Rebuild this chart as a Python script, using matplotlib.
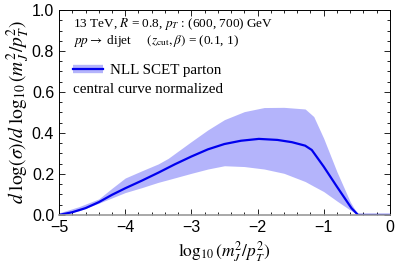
import numpy as np
import matplotlib
matplotlib.use('Agg')
import matplotlib.pyplot as plt
from matplotlib.ticker import MultipleLocator, FuncFormatter, FormatStrFormatter
from matplotlib.lines import Line2D

plt.rcParams['mathtext.fontset'] = 'stix'
plt.rcParams['font.family'] = 'Liberation Serif'

# central curve
x_c = [-5.0, -4.80, -4.60, -4.40, -4.20, -4.00, -3.75, -3.50, -3.25, -3.00,
       -2.75, -2.50, -2.25, -1.98, -1.70, -1.48, -1.28, -1.18, -1.00, -0.80,
       -0.58, -0.48, 0.0]
y_c = [0.0, 0.013, 0.033, 0.062, 0.098, 0.130, 0.167, 0.206, 0.247, 0.285,
       0.320, 0.346, 0.362, 0.371, 0.366, 0.355, 0.338, 0.317, 0.236, 0.138,
       0.033, 0.0, 0.0]

# uncertainty band
x_b = [-5.0, -4.70, -4.40, -4.20, -4.00, -3.75, -3.50, -3.35, -3.00, -2.75,
       -2.50, -2.20, -1.90, -1.60, -1.28, -1.15, -1.00, -0.80, -0.60, -0.48, 0.0]
y_up = [0.010, 0.040, 0.078, 0.130, 0.180, 0.215, 0.249, 0.276, 0.358, 0.415,
        0.465, 0.504, 0.524, 0.525, 0.517, 0.480, 0.374, 0.211, 0.065, 0.0, 0.0]
y_lo = [0.0, 0.020, 0.057, 0.083, 0.109, 0.133, 0.159, 0.172, 0.203, 0.224,
        0.240, 0.236, 0.224, 0.203, 0.163, 0.140, 0.114, 0.068, 0.024, 0.0, 0.0]

band_col = '#b4b4fb'
line_col = '#0000ee'

fig = plt.figure(figsize=(3.99, 2.71), dpi=100)
ax = fig.add_axes([0.148, 0.207, 0.829, 0.756])

ax.fill_between(x_b, y_lo, y_up, color=band_col, lw=0, zorder=1)
ax.plot(x_c, y_c, color=line_col, lw=1.6, zorder=2, solid_joinstyle='round')

ax.set_xlim(-5, 0)
ax.set_ylim(0, 1.0)
ax.xaxis.set_major_locator(MultipleLocator(1))
ax.xaxis.set_minor_locator(MultipleLocator(0.2))
ax.yaxis.set_major_locator(MultipleLocator(0.2))
ax.yaxis.set_minor_locator(MultipleLocator(0.05))
ax.tick_params(which='both', direction='in', top=True, right=True,
               labelsize=11.5, width=0.6)
ax.tick_params(which='major', length=4)
ax.tick_params(which='minor', length=2)
ax.xaxis.set_major_formatter(FuncFormatter(
    lambda v, p: '0' if v == 0 else '\u2212%d' % abs(v)))
ax.yaxis.set_major_formatter(FormatStrFormatter('%.1f'))
for lab in ax.get_xticklabels() + ax.get_yticklabels():
    lab.set_fontfamily('Liberation Sans')
for s in ax.spines.values():
    s.set_linewidth(0.7)
ax.spines['bottom'].set_color('#999999')
ax.spines['bottom'].set_linewidth(1.2)

ax.set_xlabel(r'$\log_{10}(m_J^2/p_T^2)$', fontsize=12.5, labelpad=3)
ax.set_ylabel(r'$d\;\log(\sigma)/d\;\log_{10}(m_J^2/p_T^2)$', fontsize=14,
              labelpad=0)

ax.text(0.042, 0.932, r'13 TeV, $R$ = 0.8, $p_T$ : (600, 700) GeV',
        transform=ax.transAxes, fontsize=9.5, va='center')
ax.text(0.042, 0.849, r'$pp \rightarrow$ dijet     $(z_{\rm cut}, \beta)$ = (0.1, 1)',
        transform=ax.transAxes, fontsize=9.5, va='center')

handle = (Line2D([], [], color=band_col, lw=6, solid_capstyle='butt'),
          Line2D([], [], color=line_col, lw=1.6))
leg = ax.legend([handle], ['NLL SCET parton'], loc='upper left',
                bbox_to_anchor=(0.024, 0.768), frameon=False, fontsize=10.8,
                handlelength=2.0, handletextpad=0.5, borderaxespad=0)
ax.text(0.042, 0.61, 'central curve normalized', transform=ax.transAxes,
        fontsize=10.8, va='center')

fig.savefig('out.png', dpi=100)
